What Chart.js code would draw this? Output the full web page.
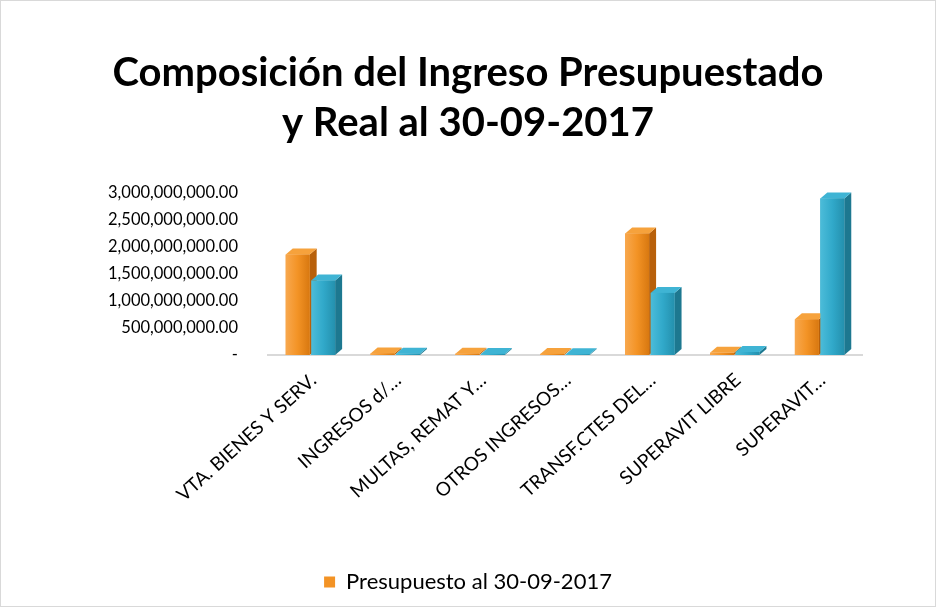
<!DOCTYPE html>
<html>
<head>
<meta charset="utf-8">
<script src="https://cdn.jsdelivr.net/npm/chart.js@4.4.0/dist/chart.umd.min.js"></script>
<style>
  html, body { margin: 0; padding: 0; background: #fff; }
  #wrap { width: 936px; height: 607px; position: relative; }
</style>
</head>
<body>
<div id="wrap"><canvas id="chart" width="936" height="607"></canvas></div>
<script>
var categories = ['VTA. BIENES Y SERV.', 'INGRESOS d/…', 'MULTAS, REMAT Y…', 'OTROS INGRESOS…', 'TRANSF.CTES DEL…', 'SUPERAVIT LIBRE', 'SUPERAVIT…'];
var presupuesto = [1860000000, 30000000, 25000000, 20000000, 2250000000, 40000000, 660000000];
var real = [1380000000, 25000000, 20000000, 15000000, 1150000000, 55000000, 2900000000];
var yTicks = [0, 500000000, 1000000000, 1500000000, 2000000000, 2500000000, 3000000000];

var FONT = 'Lato, "Open Sans", sans-serif';

// colours for front / side / top faces
var palette = [
  { light: '#f8a84e', mid: '#f39325', dark: '#d87810', side: '#b8600a', top: '#f6a23c' },
  { light: '#4cbcd9', mid: '#31a9ca', dark: '#2490ad', side: '#1d7890', top: '#3fb4d4' }
];

function fmt(v) {
  if (v === 0) return '-';
  return v.toLocaleString('en-US', { minimumFractionDigits: 2, maximumFractionDigits: 2 });
}

// draws depth faces on top of each bar
var bars3d = {
  id: 'bars3d',
  afterDatasetsDraw: function(chart) {
    var ctx = chart.ctx;
    var dx = 7, dy = -6;
    var n = chart.data.labels.length;
    for (var i = 0; i < n; i++) {
      for (var d = 0; d < chart.data.datasets.length; d++) {
        var el = chart.getDatasetMeta(d).data[i];
        var p = el.getProps(['x', 'y', 'base', 'width'], true);
        var l = p.x - p.width / 2, r = p.x + p.width / 2, t = p.y, b = p.base;
        var c = palette[d];
        ctx.save();
        // side
        ctx.fillStyle = c.side;
        ctx.beginPath();
        ctx.moveTo(r, t); ctx.lineTo(r + dx, t + dy); ctx.lineTo(r + dx, b + dy); ctx.lineTo(r, b);
        ctx.closePath(); ctx.fill();
        // top
        ctx.fillStyle = c.top;
        ctx.beginPath();
        ctx.moveTo(l, t); ctx.lineTo(l + dx, t + dy); ctx.lineTo(r + dx, t + dy); ctx.lineTo(r, t);
        ctx.closePath(); ctx.fill();
        // front
        var g = ctx.createLinearGradient(l, 0, r, 0);
        g.addColorStop(0, c.light); g.addColorStop(0.5, c.mid); g.addColorStop(1, c.dark);
        ctx.fillStyle = g;
        ctx.fillRect(l, t, r - l, b - t);
        ctx.restore();
      }
    }
  },
  afterDraw: function(chart) {
    var ctx = chart.ctx;
    ctx.save();
    ctx.strokeStyle = '#d9d9d9';
    ctx.lineWidth = 1;
    ctx.strokeRect(0.5, 0.5, chart.width - 1, chart.height - 1);
    ctx.restore();
  }
};

var ctx = document.getElementById('chart').getContext('2d');
var myChart = new Chart(ctx, {
  type: 'bar',
  data: {
    labels: categories,
    datasets: [{
      label: 'Presupuesto al 30-09-2017',
      data: presupuesto,
      backgroundColor: palette[0].mid,
      borderColor: palette[0].side,
      categoryPercentage: 0.6,
      barPercentage: 0.94
    }, {
      label: 'Real al 30-09-2017',
      data: real,
      backgroundColor: palette[1].mid,
      categoryPercentage: 0.6,
      barPercentage: 0.94
    }]
  },
  options: {
    responsive: false,
    animation: false,
    layout: { padding: { left: 47, right: 47, top: 0, bottom: 4 } },
    scales: {
      x: {
        grid: { display: false, drawTicks: false },
        border: { color: '#d9d9d9', width: 2 },
        ticks: {
          color: '#000',
          font: { family: FONT, size: 19 },
          minRotation: 42, maxRotation: 42,
          autoSkip: false,
          labelOffset: 3,
          padding: 14
        },
        afterFit: function(scale) { scale.height = 205; }
      },
      y: {
        min: 0, max: 3000000000,
        grid: { display: false, drawTicks: false },
        border: { display: false },
        afterBuildTicks: function(scale) {
          scale.ticks = yTicks.map(function(v) { return { value: v }; });
        },
        ticks: {
          color: '#000',
          font: { family: FONT, size: 16.5 },
          padding: 30,
          callback: function(v) { return fmt(v); }
        },
        afterFit: function(scale) { scale.width = 221; }
      },
      // empty axis used only as right margin
      yRight: {
        position: 'right',
        grid: { display: false, drawTicks: false },
        border: { display: false },
        ticks: { display: false },
        afterFit: function(scale) { scale.width = 27; }
      }
    },
    plugins: {
      title: {
        display: true,
        text: ['Composición del Ingreso Presupuestado', 'y Real al 30-09-2017'],
        color: '#000',
        font: { family: FONT, size: 40, weight: 'bold', lineHeight: 1.25 },
        padding: { top: 48, bottom: 45 }
      },
      legend: {
        position: 'bottom',
        labels: {
          color: '#000',
          font: { family: FONT, size: 22 },
          boxWidth: 11, boxHeight: 11,
          padding: 11,
          filter: function(item) { return item.datasetIndex === 0; }
        }
      },
      tooltip: { enabled: false }
    }
  },
  plugins: [bars3d]
});
</script>
</body>
</html>
